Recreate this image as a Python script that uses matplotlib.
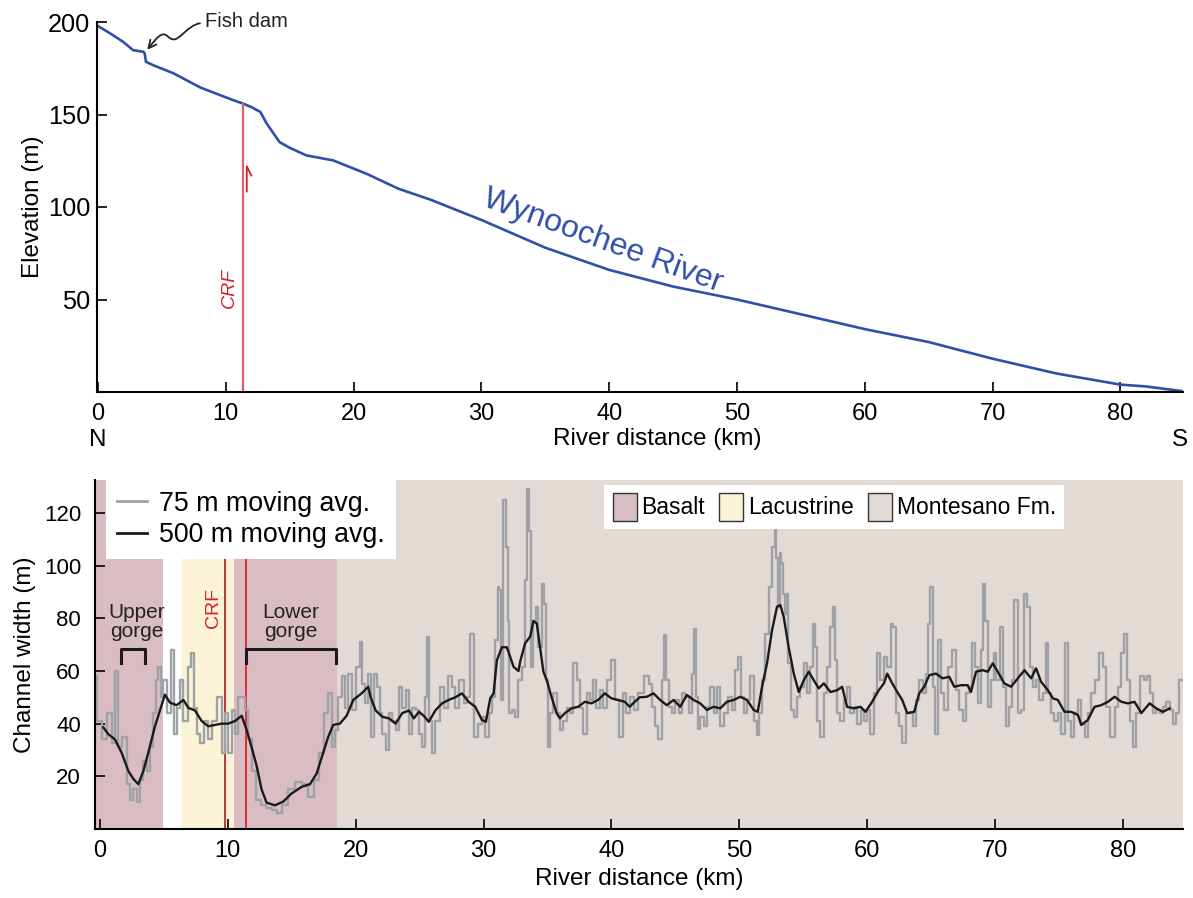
import numpy as np
import matplotlib
matplotlib.use("Agg")
import matplotlib.pyplot as plt
from matplotlib.path import Path
from matplotlib.patches import FancyArrowPatch, Patch
from matplotlib.lines import Line2D

plt.rcParams['font.family'] = ['Liberation Sans', 'DejaVu Sans']

# ---------------- data: river long profile ----------------
profile_km = [0, 0.94, 1.96, 2.74, 3.55, 3.65, 3.75, 4.3, 5.9, 8.0, 10.6, 11.35, 12.0, 12.7,
              13.2, 14.2, 15.0, 16.3, 18.4, 21.0, 23.5, 26, 30, 35, 40, 45, 50, 55, 60, 65,
              70, 75, 80, 82, 84.8]
profile_elev = [197.8, 193.9, 189.3, 184.8, 183.9, 183.0, 178.5, 176.7, 172.3, 164.6, 157.7,
                155.9, 154, 151.4, 145.1, 135.1, 132, 127.9, 125.2, 118, 109.9, 104, 93, 78,
                66, 57, 50, 42, 34, 27, 18, 10, 4, 3, 0.5]

# ---------------- data: channel width, 75 m moving average ----------------
w75_km = [-0.39, -0.13, 0.39, 0.78, 1.04, 1.30, 1.56, 1.95, 2.22, 2.48, 2.74, 3.00, 3.26, 3.52,
          3.78, 4.04, 4.30, 4.43, 4.69, 4.82, 5.08, 5.34, 5.73, 5.86, 6.12, 6.39, 6.65, 7.04,
          7.22, 7.43, 7.69, 7.95, 8.34, 8.60, 8.99, 9.38, 9.64, 9.90, 10.16, 10.42, 10.69,
          10.95, 11.21, 11.47, 11.73, 11.99, 12.38, 12.77, 13.16, 13.68, 14.07, 14.46, 14.99,
          15.51, 16.03, 16.55, 16.94, 17.33, 17.72, 17.98, 18.24, 18.50, 18.76, 19.03, 19.29,
          19.55, 19.81, 20.20, 20.41, 20.59, 20.85, 21.11,
          21.30, 21.56, 21.82, 21.95, 22.21, 22.47, 22.73, 22.99, 23.25, 23.51, 23.77, 24.03,
          24.29, 24.55, 24.81, 25.06, 25.32, 25.45, 25.66, 25.84, 26.10, 26.36, 26.75, 27.01,
          27.40, 27.66, 27.92, 28.31, 28.57, 28.83, 29.09, 29.35, 29.74, 30.00, 30.26, 30.52,
          30.78, 31.04, 31.17, 31.30, 31.43, 31.64, 31.82, 31.95, 32.08, 32.34, 32.60, 32.86,
          33.12, 33.30, 33.51, 33.64, 33.77, 34.03, 34.16, 34.42, 34.68, 34.81, 34.94, 35.12,
          35.32, 35.58, 35.84, 36.10, 36.36, 36.62, 36.88, 37.14, 37.40, 37.66, 37.92, 38.18,
          38.44, 38.70, 38.96, 39.22, 39.48, 39.87, 40.13, 40.39, 40.78, 41.04, 41.30, 41.56,
          41.95, 42.21,
          42.38, 42.77, 43.03, 43.29, 43.55, 43.81, 44.07, 44.20, 44.33, 44.60, 44.86, 45.12,
          45.38, 45.64, 45.90, 46.16, 46.37, 46.50, 46.68, 46.81, 47.08, 47.34, 47.60, 47.86,
          48.12, 48.38, 48.64, 48.90, 49.30, 49.56, 49.82, 50.03, 50.21, 50.47, 50.73, 50.99,
          51.25, 51.44, 51.64, 51.91, 52.17, 52.43, 52.69, 52.82, 52.95, 53.08, 53.21, 53.34,
          53.47, 53.60, 53.73, 53.94, 54.13, 54.39, 54.65, 54.91, 55.17, 55.43, 55.69, 55.82,
          55.95, 56.21, 56.48, 56.74, 57.00, 57.26, 57.39, 57.52, 57.78, 58.04, 58.30, 58.56,
          58.83, 59.09, 59.35, 59.61, 59.87, 60.13, 60.39, 60.65, 60.91, 61.17, 61.44, 61.70,
          61.96, 62.14, 62.35, 62.61, 62.87, 63.13,
          63.42, 63.68, 63.94, 64.20, 64.46, 64.73, 64.86, 65.04, 65.25, 65.38, 65.64, 65.90,
          66.16, 66.42, 66.81, 67.08, 67.34, 67.60, 67.86, 68.12, 68.30, 68.51, 68.77, 68.96,
          69.16, 69.30, 69.56, 69.82, 70.00, 70.21, 70.52, 70.73, 70.99, 71.25, 71.38, 71.64,
          71.91, 72.17, 72.43, 72.61, 72.82, 73.08, 73.34, 73.60, 73.86, 74.07, 74.26, 74.52,
          74.78, 75.04, 75.30, 75.64, 75.82, 76.08, 76.34, 76.61, 76.87, 77.13, 77.39, 77.65,
          77.91, 78.30, 78.56, 78.83, 79.22, 79.48, 79.74, 80.00, 80.18, 80.39, 80.65, 80.86,
          81.17, 81.49, 81.75, 82.01, 82.22, 82.48, 82.74, 83.00, 83.26, 83.52, 83.79, 84.05,
          84.31, 84.44, 84.67]
w75_m = [58, 41, 34, 44, 32.5, 60, 31, 35, 17, 11, 15, 10.4, 18.6, 26,
         22, 31, 44, 56.5, 61.6, 50, 56.5, 44, 68, 36, 46, 56.5, 41, 61.6,
         66.7, 46, 36, 32.5, 41, 34, 41, 50, 29, 44, 29, 45, 36,
         50, 50, 45, 34, 22, 11, 9, 7.8, 7.2, 6, 9, 15,
         18, 17, 12.3, 18.6, 29, 44, 51.5, 31, 37.6, 50, 58, 46,
         59, 45, 61.6, 71, 55, 47.7, 59,
         35, 59, 54, 44, 36, 30, 44, 41, 37.6, 54, 46, 52.7,
         36, 46, 45, 36, 31, 50, 73, 41, 29, 41, 54, 46,
         58, 54, 46, 56.5, 47.7, 50, 74, 35, 40, 42.6, 35, 44,
         50, 71.7, 92, 90.7, 49, 125, 107, 79, 44, 45, 42.6, 56.5,
         61.6, 94.5, 129, 113, 61.6, 79, 84.4, 69, 93, 85.6, 56.5, 31,
         44, 51.5, 44, 37.6, 41, 46, 44, 63, 56.5, 46, 36, 51.5,
         49, 56.5, 46, 52.7, 46, 56.5, 64, 49, 35, 51.5, 44, 50,
         45, 51.5,
         51.5, 58, 55, 46.4, 39, 34, 56.5, 73.6, 56.5, 46.4, 44, 49,
         44, 51.5, 50, 44, 59, 76, 50, 38, 42.6, 39, 46.4, 54,
         44, 54, 39, 44, 50, 45, 60.3, 65.4, 50, 44, 49, 58,
         41, 35.7, 44, 56.5, 74, 92, 107, 113.5, 103, 84.4, 104.6, 100.8,
         89.4, 81.8, 89.4, 63, 45, 42.6, 50, 54, 63, 51.5, 61.6, 78,
         69, 41, 35, 51.5, 61.6, 76.8, 84.4, 64, 44, 41, 49, 54,
         44, 46.4, 40, 45, 41, 45, 36, 51.5, 66.7, 56.5, 65.4, 61.6,
         78, 76.8, 44, 39, 32.5, 44,
         44, 39, 49, 56.5, 51.5, 59, 78, 92, 54, 36, 71.7, 51.5,
         45, 61.6, 68, 52.7, 45, 41, 51.5, 54, 70.5, 61.6, 47.7, 68,
         93, 79, 46.4, 56.5, 66.7, 56.5, 76.8, 54, 39, 46.4, 56.5, 87,
         44, 45, 89.4, 84.4, 61.6, 54, 56.5, 49, 51.5, 70.5, 51.5, 44,
         41, 44, 36, 70.5, 41, 35, 44, 49, 40, 35, 44, 51.5,
         56.5, 66.7, 61.6, 46.4, 35, 46.4, 54, 66.7, 74, 56.5, 41, 31,
         44, 58, 56.5, 58, 51.5, 44, 45, 44, 46.4, 48.3, 45, 40,
         44, 56.5, 56.5]

# ---------------- data: channel width, 500 m moving average ----------------
w500_km = [0.26, 0.65, 1.17, 1.69, 2.22, 2.61, 3.00, 3.39, 3.78, 4.30, 4.69, 5.08, 5.47, 5.99,
           6.52, 6.91, 7.43, 7.95, 8.47, 8.99, 9.51, 10.03, 10.56, 11.08, 11.47, 11.86, 12.25,
           12.64, 13.03, 13.68, 14.33, 14.99, 15.77, 16.42, 16.94, 17.46, 17.85, 18.24, 18.76,
           19.29, 19.81, 20.46, 20.98,
           21.17, 21.56, 22.08, 22.60, 23.12, 23.64, 24.16, 24.55, 24.94, 25.32, 25.71, 26.23,
           26.75, 27.27, 27.79, 28.31, 28.83, 29.35, 29.87, 30.18, 30.52, 30.78, 31.04, 31.43,
           31.82, 32.08, 32.34, 32.73, 32.86, 33.25, 33.64, 33.90, 34.16, 34.42, 34.68, 34.94,
           35.32, 35.71, 35.97, 36.36, 36.88, 37.40, 37.92, 38.44, 38.96, 39.48, 40.00, 40.52,
           41.04, 41.43, 41.82, 42.21,
           42.77, 43.29, 43.81, 44.33, 44.86, 45.38, 45.90, 46.42, 46.95, 47.47, 47.99, 48.51,
           49.03, 49.56, 50.08, 50.60, 51.12, 51.44, 51.78, 52.17, 52.56, 52.95, 53.21, 53.47,
           53.86, 54.26, 54.65, 55.04, 55.43, 55.82, 56.21, 56.61, 57.13, 57.65, 58.04, 58.43,
           58.96, 59.48, 59.87, 60.39, 60.91, 61.31, 61.57, 61.96, 62.35, 62.74, 63.13,
           63.68, 64.07, 64.46, 64.86, 65.38, 65.90, 66.42, 66.81, 67.34, 67.86, 68.12, 68.51,
           69.03, 69.43, 69.82, 70.21, 70.73, 71.25, 71.78, 72.30, 72.82, 73.21, 73.60, 74.13,
           74.52, 74.91, 75.43, 75.95, 76.48, 76.74, 77.26, 77.78, 78.30, 78.83, 79.35, 79.87,
           80.39, 80.91, 81.44, 82.09, 82.61, 83.13, 83.66]
w500_m = [38.6, 36, 34, 29, 22, 19, 17, 22, 29, 39, 45, 51, 48, 47,
          49, 46, 45, 41, 39, 39.5, 40, 40, 41, 43, 37.6, 31, 24,
          15, 10, 9, 10.4, 13.5, 16, 17, 21, 29, 35, 39.5, 40,
          43, 49, 51.5, 54,
          50, 45, 42.6, 42, 40, 44, 45, 42, 44.5, 43, 40.7, 45,
          47.7, 49, 50, 51.5, 48.3, 46.4, 41.4, 40.7, 49.6, 51.5, 64, 69,
          69, 65.4, 61.6, 60, 63.5, 70.5, 73, 79, 78, 69, 59.7, 56.5,
          50, 44, 42, 44, 45.8, 46.4, 48.3, 47.7, 49, 51.5, 49.6, 49,
          48.3, 46.4, 48.3, 50,
          50.2, 51.5, 49, 47, 49, 46.4, 50.9, 49, 47.7, 45.2, 46.4, 45.8,
          48.3, 49, 50.2, 49, 45.2, 44.5, 54, 63, 75.5, 84.4, 85, 80.6,
          69, 59, 52, 56.5, 59.7, 56.5, 53.4, 55.3, 52, 52.7, 54, 46.4,
          45.8, 46.4, 44.5, 48.3, 52.7, 55.3, 59, 55.3, 52, 49, 44,
          44.5, 51.5, 54, 58.4, 59, 57.2, 57.8, 54, 54.6, 54.6, 52, 59.7,
          60.3, 59.7, 62.9, 59.7, 55.3, 54, 57.2, 60.3, 57.2, 61, 55.9, 52.7,
          49.6, 49, 44.5, 44.5, 43.3, 39.5, 41.4, 46.4, 47, 48.3, 50.2, 48.3,
          47.7, 48.3, 44, 47.7, 45.8, 44.5, 45.8]

# ---------------- data: geology ----------------
units = ['Basalt', 'Lacustrine', 'Basalt', 'Montesano Fm.']
unit_start = [-0.4, 6.33, 10.5, 18.56]
unit_end = [4.95, 10.45, 18.56, 85.0]
unit_colors = {'Basalt': '#d9bdc3', 'Lacustrine': '#faf3d6', 'Montesano Fm.': '#e2dad4'}

crf_top_km = 11.35
crf_bottom_km = [9.77, 11.39]
upper_gorge = (1.64, 3.52)
lower_gorge = (11.39, 18.45)

x_ticks = [0, 10, 20, 30, 40, 50, 60, 70, 80]

# ---------------- figure ----------------
W, H = 1193, 898
fig = plt.figure(figsize=(W / 100, H / 100), dpi=100)

def rect(l, t, r, b):
    return [l / W, 1 - b / H, (r - l) / W, (b - t) / H]

blue = '#3050a8'
red_top = '#e06070'

# ---- top panel ----
ax1 = fig.add_axes(rect(97, 22, 1183, 392))
ax1.plot(profile_km, profile_elev, color=blue, lw=1.9, solid_joinstyle='round')
ax1.set_xlim(-0.08, 84.9)
ax1.set_ylim(0, 200)
ax1.set_yticks([50, 100, 150, 200])
ax1.set_xticks(x_ticks)
for s in ['top', 'right']:
    ax1.spines[s].set_visible(False)
for s in ['left', 'bottom']:
    ax1.spines[s].set_linewidth(1.5)
ax1.tick_params(direction='in', length=7, width=1.2, labelsize=17)
ax1.tick_params(axis='y', pad=5, labelsize=18.3)
ax1.tick_params(axis='x', pad=8)
ax1.set_ylabel('Elevation (m)', fontsize=17.5, labelpad=3)

# CRF line on profile
ax1.plot([crf_top_km, crf_top_km], [0, 155.9], color=red_top, lw=1.6)
ax1.text(10.25, 56, 'CRF', rotation=90, color='#d42030', fontsize=14,
         style='italic', ha='center', va='center')
# half-arrow fault sense
ax1.plot([11.64, 11.64, 12.0], [108.4, 122, 117], color='#d42030', lw=1.3)

# Fish dam annotation with wavy arrow
path = Path([(7.98, 199.3), (7.0, 198.2), (6.4, 190.0), (5.87, 190.6),
             (5.5, 191.0), (5.4, 193.6), (5.09, 193.3),
             (4.7, 193.0), (4.2, 188.0), (3.85, 185.0)],
            [Path.MOVETO, Path.CURVE4, Path.CURVE4, Path.CURVE4,
             Path.CURVE4, Path.CURVE4, Path.CURVE4,
             Path.CURVE4, Path.CURVE4, Path.CURVE4])
arr = FancyArrowPatch(path=path, arrowstyle='->', mutation_scale=14, lw=1.3, color='#222222')
ax1.add_patch(arr)
ax1.text(8.4, 200.5, 'Fish dam', fontsize=14.5, ha='left', va='center', color='#222222')

ax1.text(39.5, 81.5, 'Wynoochee River', fontsize=23, color=blue, rotation=-20,
         rotation_mode='anchor', ha='center', va='center')

fig.text(98 / W, 1 - 440 / H, 'N', fontsize=17.5, ha='center', va='center')
fig.text(1180 / W, 1 - 440 / H, 'S', fontsize=17.5, ha='center', va='center')
fig.text(657 / W, 1 - 439 / H, 'River distance (km)', fontsize=17.5, ha='center', va='center')

# ---- bottom panel ----
ax2 = fig.add_axes(rect(95, 480, 1183, 829))
for u, a, b in zip(units, unit_start, unit_end):
    ax2.axvspan(a, b, color=unit_colors[u], lw=0, zorder=0)
ax2.plot(w75_km, w75_m, color='#9ea2a6', lw=1.7, drawstyle='steps-mid', zorder=2)
ax2.plot(w500_km, w500_m, color='#1a1a1a', lw=1.7, zorder=3)
for xk, c in zip(crf_bottom_km, ['#c0272d', '#e0202a']):
    ax2.axvline(xk, color=c, lw=1.3, zorder=1.5)
ax2.text(8.86, 84, 'CRF', rotation=90, color='#d42030', fontsize=14,
         ha='center', va='center')

# gorge brackets
for (a, b), lab in zip([upper_gorge, lower_gorge], ['Upper\ngorge', 'Lower\ngorge']):
    ax2.plot([a, a, b, b], [63, 68.5, 68.5, 63], color='#1a1a1a', lw=2.2, zorder=4)
    ax2.text((a + b) / 2 + (0.0 if lab.startswith('L') else 0.3), 78.5, lab, fontsize=15,
             ha='center', va='center', linespacing=1.0, color='#222222')

ax2.set_xlim(-0.39, 84.7)
ax2.set_ylim(0, 132.5)
ax2.set_xticks(x_ticks)
ax2.set_yticks([20, 40, 60, 80, 100, 120])
for s in ['top', 'right']:
    ax2.spines[s].set_visible(False)
for s in ['left', 'bottom']:
    ax2.spines[s].set_linewidth(1.5)
ax2.tick_params(direction='in', length=7, width=1.2, labelsize=17)
ax2.tick_params(axis='y', pad=10, labelsize=16)
ax2.tick_params(axis='x', pad=8)
ax2.set_ylabel('Channel width (m)', fontsize=17.5, labelpad=6)
ax2.set_xlabel('River distance (km)', fontsize=17.5, labelpad=4)

h1 = [Line2D([], [], color='#9ea2a6', lw=2), Line2D([], [], color='#1a1a1a', lw=2)]
leg1 = ax2.legend(h1, ['75 m moving avg.', '500 m moving avg.'], loc='upper left',
                  bbox_to_anchor=(0.01, 1.0), borderaxespad=0, fontsize=19.3,
                  frameon=True, fancybox=False, framealpha=1, edgecolor='none',
                  handlelength=1.15, handletextpad=0.45, labelspacing=0.2,
                  borderpad=0.4)
leg1.get_frame().set_facecolor('white')
ax2.add_artist(leg1)

h2 = [Patch(facecolor=unit_colors[u], edgecolor='#333333', lw=1) for u in
      ['Basalt', 'Lacustrine', 'Montesano Fm.']]
leg2 = ax2.legend(h2, ['Basalt', 'Lacustrine', 'Montesano Fm.'], loc='upper right',
                  bbox_to_anchor=(0.8906, 0.986), borderaxespad=0, ncol=3, fontsize=16.5,
                  frameon=True, fancybox=False, framealpha=1, edgecolor='none',
                  handlelength=1.05, handleheight=1.5, handletextpad=0.22, columnspacing=0.6,
                  borderpad=0.35)
leg2.get_frame().set_facecolor('white')

fig.savefig('out.png', dpi=100)
